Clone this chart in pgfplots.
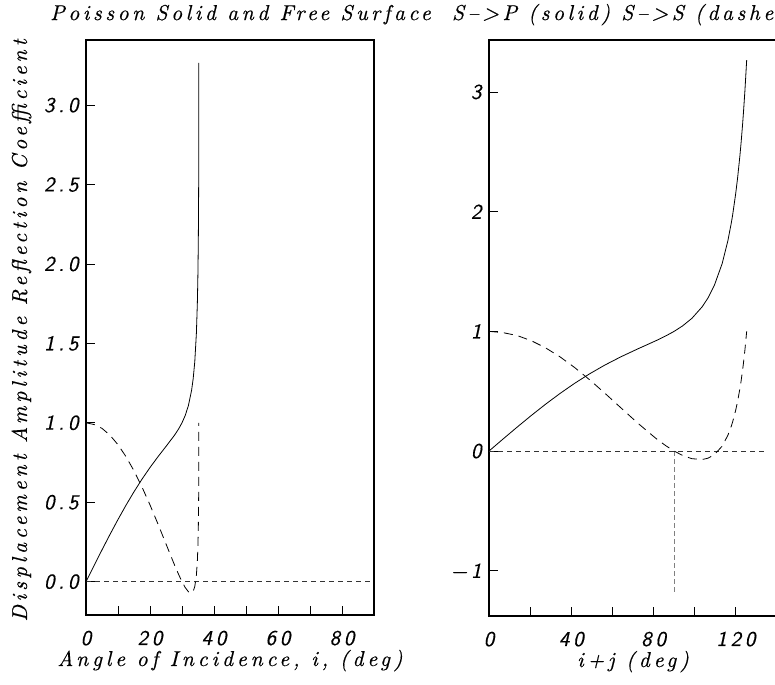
\documentclass[border=0pt]{standalone}
\usepackage{fontspec}
\usepackage{pgfplots}
\usepackage{pgfplotstable}
\pgfplotsset{compat=1.18}
\newfontfamily\hfont{lmroman10-italic.otf}[LetterSpace=18, FakeBold=0.5]
\newfontfamily\htfont{lmroman10-italic.otf}[LetterSpace=16.5, FakeBold=0.5]
\newfontfamily\hsans{lmsans10-oblique.otf}[LetterSpace=18, FakeBold=0.5]
\newcommand\tfont{\hfont\fontsize{21.5bp}{26bp}\selectfont}
\newcommand\ttfont{\htfont\fontsize{21.5bp}{26bp}\selectfont}
\newcommand\kfont{\hsans\fontsize{21bp}{25bp}\selectfont}

% j = S angle (deg), ij = i+j (deg), sp = S->P, ss = S->S
\pgfplotstableread{
j      ij      sp      ss
0      0       0       1
2.5    6.83    0.1006  0.9892
5      13.68   0.2000  0.9650
7.5    20.57   0.2973  0.9217
10     27.50   0.3913  0.8621
12.5   34.52   0.4811  0.7870
15     41.63   0.5659  0.6977
17.5   48.89   0.6451  0.5957
20     56.33   0.7185  0.4831
22.5   64.02   0.7866  0.3625
25     72.05   0.8513  0.2373
27.5   80.62   0.9177  0.1130
28     82.41   0.9321  0.0890
29     86.10   0.9634  0.0427
30     90.00   1.0000  0.0000
31     94.13   1.0458  -0.0369
32     98.61   1.1084  -0.0637
33     103.62  1.2050  -0.0708
33.5   106.44  1.2786  -0.0599
34     109.59  1.3864  -0.0298
34.5   113.33  1.5656  0.0410
34.8   116.10  1.7556  0.1309
34.95  117.80  1.9070  0.2088
35     118.45  1.9738  0.2443
35.1   119.93  2.1523  0.3421
35.15  120.84  2.2811  0.4147
35.2   121.97  2.4677  0.5220
35.22  122.54  2.5749  0.5846
35.24  123.25  2.7249  0.6732
35.25  123.72  2.8346  0.7386
35.26  124.41  3.0125  0.8457
35.264 125.26  3.2660  1.0000
}\refl

\pgfplotsset{hstyle/.style={
  scale only axis, width=288bp,
  axis line style={line width=2bp},
  tick pos=left, tick align=inside,
  major tick length=9bp, minor tick length=9bp,
  every tick/.style={black, line width=0.8bp},
  ticklabel style={font=\kfont},
  label style={font=\tfont},
  title style={font=\ttfont, inner sep=0pt},
  xticklabel style={anchor=base, yshift=-30bp},
  xlabel style={at={(axis description cs:0.5,0)}, anchor=base, yshift=-51bp},
}}

\begin{document}
\begin{tikzpicture}
\path[use as bounding box, clip] (0,0) rectangle (775bp,685bp);

\begin{axis}[hstyle, at={(86bp,70bp)}, anchor=south west, height=575bp,
  xmin=0, xmax=90, ymin=-0.21, ymax=3.41,
  xtick={0,20,40,60,80}, xticklabels={0,20,40,60,80}, minor xtick={10,30,50,70},
  ytick={0,0.5,1,1.5,2,2.5,3}, yticklabels={0.0,0.5,1.0,1.5,2.0,2.5,3.0},
  yticklabel style={xshift=-4bp},
  title={Poisson Solid and Free Surface},
  title style={at={(axis description cs:-0.125,1.0243)}, anchor=base west},
  xlabel={Angle of Incidence, i, (deg)},
  ylabel={Displacement Amplitude Reflection Coefficient},
  ylabel style={at={(axis description cs:-0.205,0.495)}, anchor=base},
]
\addplot[black!80, line width=0.8bp, dash pattern=on 5bp off 4bp] coordinates {(0,0) (90,0)};
\addplot[black, line width=0.8bp] table[x=j, y=sp] {\refl};
\addplot[black, line width=0.8bp, dash pattern=on 9bp off 6bp] table[x=j, y=ss] {\refl};
\end{axis}

\begin{axis}[hstyle, at={(489bp,69bp)}, anchor=south west, height=576bp,
  xmin=0, xmax=140, ymin=-1.378, ymax=3.434,
  xtick={0,40,80,120}, xticklabels={0,40,80,120}, minor xtick={20,60,100,140},
  ytick={-1,0,1,2,3}, yticklabels={−1,0,1,2,3},
  yticklabel style={xshift=-4bp},
  title={S–>P (solid) S–>S (dashed)},
  title style={at={(axis description cs:-0.129,1.0243)}, anchor=base west},
  xlabel={i+j (deg)},
]
\addplot[black!80, line width=0.8bp, dash pattern=on 5bp off 4bp] coordinates {(0,0) (134,0)};
\addplot[gray, line width=1bp, dash pattern=on 5bp off 3bp] coordinates {(90,0) (90,-1.2)};
\addplot[black, line width=0.8bp] table[x=ij, y=sp] {\refl};
\addplot[black, line width=0.8bp, dash pattern=on 9bp off 6bp] table[x=ij, y=ss] {\refl};
\end{axis}
\end{tikzpicture}
\end{document}
